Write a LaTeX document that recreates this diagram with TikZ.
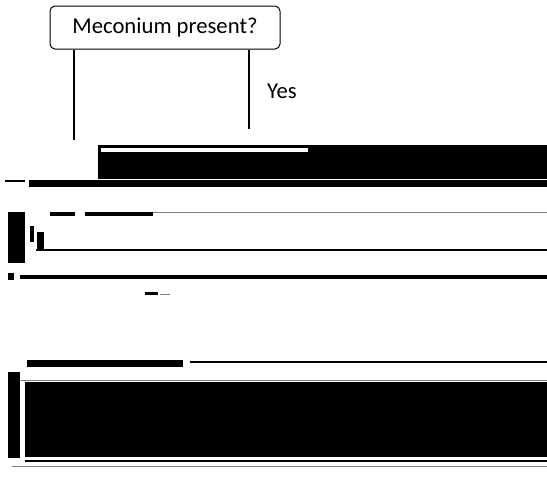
\documentclass[tikz,border=0pt]{standalone}
\usepackage{fontspec}
\setmainfont{Carlito}
\begin{document}
\begin{tikzpicture}[x=1pt,y=-1pt,
  qbox/.style={draw,rounded corners=5pt,line width=1pt,minimum width=230pt,minimum height=43pt,inner sep=0pt,font=\fontsize{22.7}{27}\selectfont},
  lbl/.style={inner sep=0pt,font=\fontsize{22.7}{27}\selectfont},
  conn/.style={line width=2pt},
  blk/.style={fill=black,draw=none},
  gline/.style={draw=gray,line width=1pt}]
\useasboundingbox (0,0) rectangle (547,493);
\node[qbox] (q) at (165,27.5) {Meconium present?};
\node[lbl] (yes) at (282,91) {Yes};
\coordinate (lend) at (74,140);
\coordinate (rend) at (249,129);
\draw[conn] (q.south -| lend) -- (lend);
\draw[conn] (q.south -| rend) -- (rend);
% corrupted black regions
\fill[blk] (98,145) rectangle (547,179);
\fill[white] (101,148) rectangle (308,152);
\draw[line width=1pt] (101,145) -- (308,145);
\fill[blk] (29,180) rectangle (547,187);
\fill[blk] (5,180) rectangle (25,182);
\draw[gline] (153,212) -- (547,212);
\fill[blk] (8,212) rectangle (25,263);
\fill[blk] (30,226) rectangle (34,242);
\fill[blk] (37,232) rectangle (44,250);
\fill[blk] (50,212) rectangle (75,216);
\fill[blk] (85,212) rectangle (153,216);
\draw[line width=2pt] (36,250) -- (547,250);
\fill[blk] (20,275) rectangle (547,279);
\fill[blk] (8,273) rectangle (14,280);
\fill[blk] (145,292) rectangle (158,295);
\draw[gline] (160,294) -- (170,294);
\fill[blk] (27,360) rectangle (183,367);
\draw[line width=1.2pt] (190,362) -- (547,362);
\draw[gline] (20,380) -- (547,380);
\fill[blk] (25,382) rectangle (547,457);
\fill[blk] (8,372) rectangle (20,458);
\draw[line width=1.2pt] (25,461) -- (547,461);
\draw[gline] (12,466) -- (547,466);
\end{tikzpicture}
\end{document}
